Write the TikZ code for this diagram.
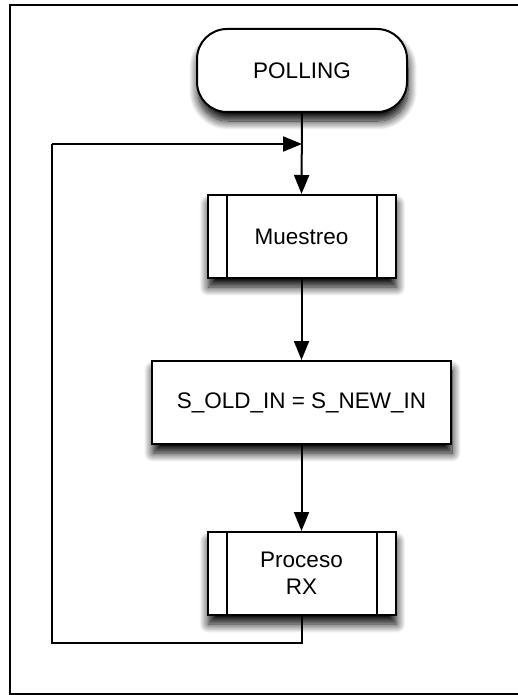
\documentclass[tikz,border=0pt]{standalone}
\usepackage{fontspec}
\setmainfont{Liberation Sans}
\usetikzlibrary{arrows.meta,shadows.blur}
\begin{document}
\begin{tikzpicture}[x=1pt,y=-1pt,
  every node/.style={font=\fontsize{22.5}{27}\selectfont, align=center},
  soft/.style={blur shadow={shadow xshift=1pt, shadow yshift=-9pt,
      shadow blur radius=9pt, shadow blur steps=12, shadow opacity=100}},
  terminal/.style={draw, line width=2pt, fill=white, rounded corners=30pt,
      minimum width=210pt, minimum height=83pt, inner sep=0pt, soft},
  actbox/.style={draw, line width=2pt, fill=white,
      minimum width=299pt, minimum height=83pt, inner sep=0pt, soft},
  subproc/.style={draw, line width=2pt, fill=white,
      minimum width=188pt, minimum height=83pt, inner sep=0pt, soft},
  bar/.style={line width=2pt},
  flow/.style={line width=2pt, -{Triangle[length=19pt,width=15pt]}},
  link/.style={line width=2pt}]

  % page area and frame
  \useasboundingbox (0,0) rectangle (518,695);
  \draw[line width=2pt] (518,5) -- (10,5) -- (10,694) -- (518,694);

  % flowchart nodes
  \node[terminal] (poll) at (302,70.5) {POLLING};
  \node[subproc] (mues) at (301.5,236.5) {Muestreo};
  \node[actbox] (asig) at (301.5,402.5) {S\_OLD\_IN = S\_NEW\_IN};
  \node[subproc] (proc) at (301.5,573.5) {Proceso\\RX};

  % side bars of the predefined-process boxes
  \foreach \n in {mues,proc} {
    \draw[bar] ([xshift=20pt]\n.north west) -- ([xshift=20pt]\n.south west);
    \draw[bar] ([xshift=-20pt]\n.north east) -- ([xshift=-20pt]\n.south east);
  }

  % loop helper points
  \coordinate (join) at (302,144);
  \coordinate (lb) at (52,643);
  \coordinate (lt) at (52,144);

  % connectors
  \draw[flow] (poll.south) -- (mues.north);
  \draw[flow] (mues.south) -- (asig.north);
  \draw[flow] (asig.south) -- (proc.north);
  \draw[link] (proc.south) |- (lb) -- (lt);
  \draw[flow] (lt) -- (join);
\end{tikzpicture}
\end{document}
